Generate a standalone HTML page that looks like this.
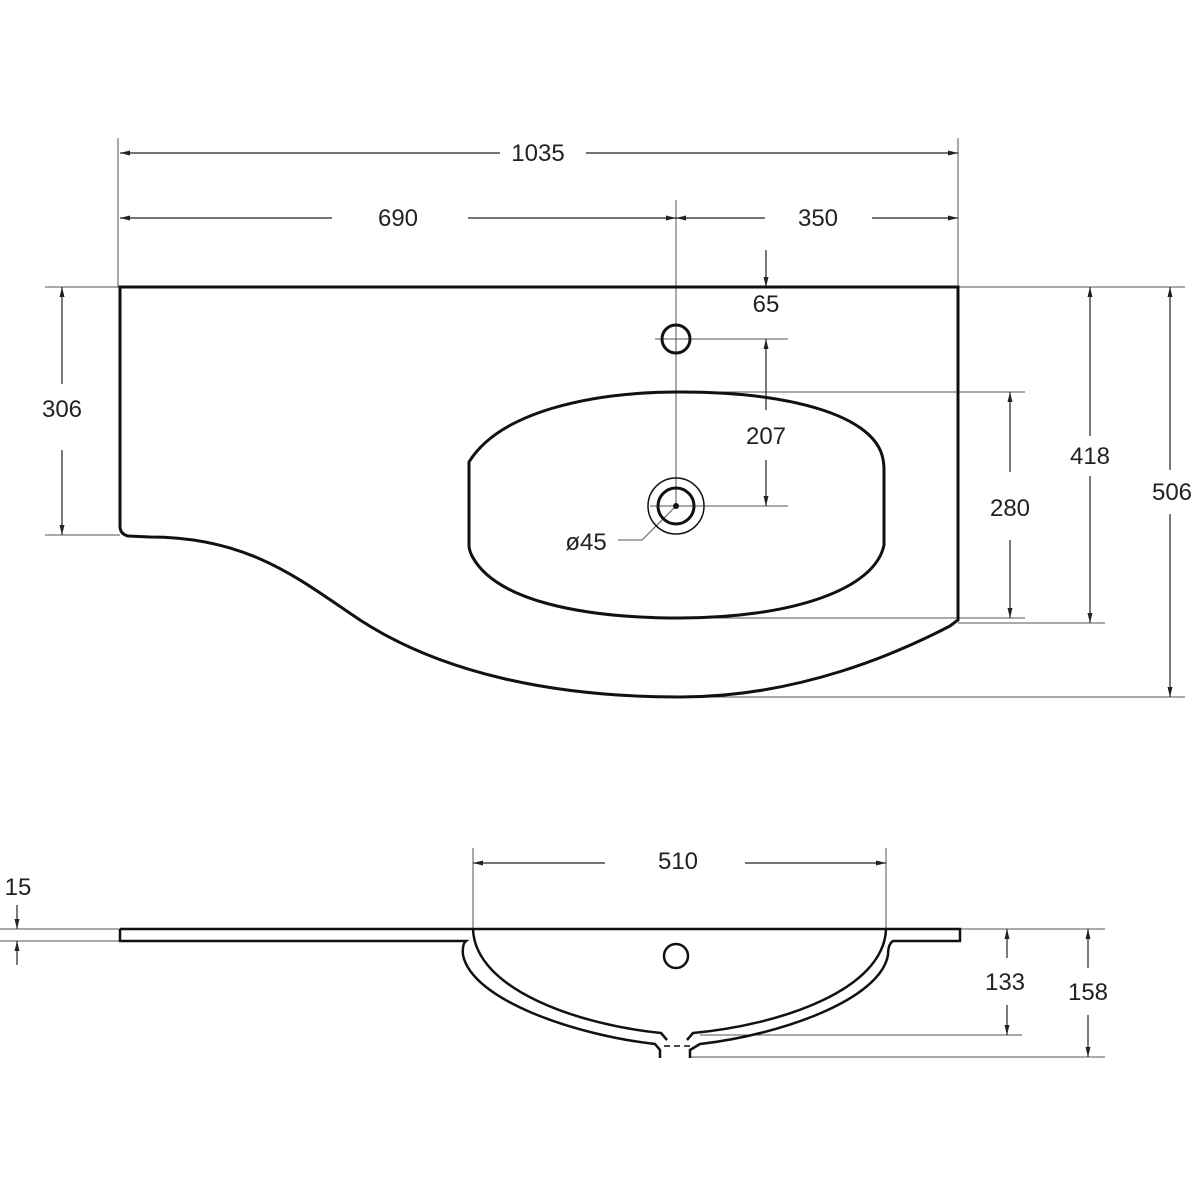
<!DOCTYPE html>
<html><head><style>body{margin:0;background:#fff}svg{display:block}text{font-family:"Liberation Sans",sans-serif;font-size:24px;fill:#222;text-anchor:middle}</style></head><body>
<svg width="1200" height="1200" viewBox="0 0 1200 1200">
<defs><marker id="a" viewBox="0 0 10 10" refX="10" refY="5" markerWidth="10" markerHeight="10" orient="auto-start-reverse" markerUnits="userSpaceOnUse"><path d="M0,2.5L10,5L0,7.5z" fill="#222"/></marker></defs>
<g stroke="#555" stroke-width="1" fill="none">
<line x1="118" y1="138" x2="118" y2="287"/><line x1="958" y1="138" x2="958" y2="287"/>
<line x1="676" y1="200" x2="676" y2="506"/>
<line x1="45" y1="287" x2="1185" y2="287"/>
<line x1="45" y1="535" x2="120" y2="535"/>
<line x1="655" y1="339" x2="788" y2="339"/><line x1="650" y1="506" x2="788" y2="506"/>
<line x1="680" y1="392" x2="1025" y2="392"/><line x1="680" y1="618" x2="1025" y2="618"/>
<line x1="958" y1="623" x2="1105" y2="623"/><line x1="680" y1="697" x2="1185" y2="697"/>
<line x1="473" y1="848" x2="473" y2="929"/><line x1="886" y1="848" x2="886" y2="929"/>
<line x1="0" y1="929" x2="120" y2="929"/><line x1="0" y1="941" x2="120" y2="941"/>
<line x1="960" y1="929" x2="1105" y2="929"/>
<line x1="700" y1="1035" x2="1022" y2="1035"/><line x1="690" y1="1057" x2="1105" y2="1057"/>
<path d="M676,506L642,540L618,540"/>
</g>
<g stroke="#222" stroke-width="1.2" fill="none" marker-start="url(#a)" marker-end="url(#a)">
<line x1="120" y1="153" x2="500" y2="153" marker-end="none"/><line x1="586" y1="153" x2="958" y2="153" marker-start="none"/>
<line x1="120" y1="218" x2="332" y2="218" marker-end="none"/><line x1="468" y1="218" x2="676" y2="218" marker-start="none"/>
<line x1="676" y1="218" x2="765" y2="218" marker-end="none"/><line x1="872" y1="218" x2="958" y2="218" marker-start="none"/>
<line x1="766" y1="250" x2="766" y2="287" marker-start="none"/>
<line x1="766" y1="339" x2="766" y2="410" marker-end="none"/><line x1="766" y1="460" x2="766" y2="506" marker-start="none"/>
<line x1="62" y1="287" x2="62" y2="384" marker-end="none"/><line x1="62" y1="450" x2="62" y2="535" marker-start="none"/>
<line x1="1010" y1="392" x2="1010" y2="472" marker-end="none"/><line x1="1010" y1="540" x2="1010" y2="618" marker-start="none"/>
<line x1="1090" y1="287" x2="1090" y2="436" marker-end="none"/><line x1="1090" y1="476" x2="1090" y2="623" marker-start="none"/>
<line x1="1170" y1="287" x2="1170" y2="470" marker-end="none"/><line x1="1170" y1="514" x2="1170" y2="697" marker-start="none"/>
<line x1="473" y1="863" x2="605" y2="863" marker-end="none"/><line x1="745" y1="863" x2="886" y2="863" marker-start="none"/>
<line x1="17" y1="905" x2="17" y2="929" marker-start="none"/><line x1="17" y1="965" x2="17" y2="941" marker-start="none"/>
<line x1="1007" y1="929" x2="1007" y2="958" marker-end="none"/><line x1="1007" y1="1005" x2="1007" y2="1035" marker-start="none"/>
<line x1="1088" y1="929" x2="1088" y2="968" marker-end="none"/><line x1="1088" y1="1015" x2="1088" y2="1057" marker-start="none"/>
</g>
<g stroke="#111" stroke-width="3" fill="none">
<path d="M120,287L958,287L958,620L950,626C900,652 800,697 680,697C550,697 440,672 360,620C300,580 250,537 150,537L128,536Q120,534 120,526Z"/>
<path d="M469,462C500,412 590,392 680,392C790,392 870,415 882,455Q884,462 884,470L884,545C875,590 790,618 680,618C580,618 495,600 472,556Q469,550 469,545Z"/>
<circle cx="676" cy="339" r="14"/>
<circle cx="676" cy="506" r="18"/>
</g>
<circle cx="676" cy="506" r="28" stroke="#111" stroke-width="1.5" fill="none"/>
<circle cx="676" cy="506" r="3" fill="#111"/>
<g stroke="#111" stroke-width="2.5" fill="none">
<path d="M473,929L960,929L960,941L893,941Q888,944 888,955C880,1000 780,1035 700,1044L690,1050L690,1058"/>
<path d="M886,929C884,990 780,1025 693,1033L687,1040"/>
<path d="M120,929L473,929M120,929L120,941L466,941Q462,944 463,955C472,1000 575,1035 655,1044L660,1050L660,1058"/>
<path d="M473,929C475,990 580,1025 661,1033L667,1040"/>
<circle cx="676" cy="956" r="12"/>
</g>
<line x1="664" y1="1046" x2="690" y2="1046" stroke="#111" stroke-width="1.5" stroke-dasharray="6,4"/>
<text x="538" y="161">1035</text><text x="398" y="226">690</text><text x="818" y="226">350</text>
<text x="766" y="312">65</text><text x="766" y="444">207</text><text x="586" y="550">ø45</text>
<text x="62" y="417">306</text><text x="1010" y="516">280</text><text x="1090" y="464">418</text><text x="1172" y="500">506</text>
<text x="678" y="869">510</text><text x="18" y="895">15</text><text x="1005" y="990">133</text><text x="1088" y="1000">158</text>
</svg></body></html>
